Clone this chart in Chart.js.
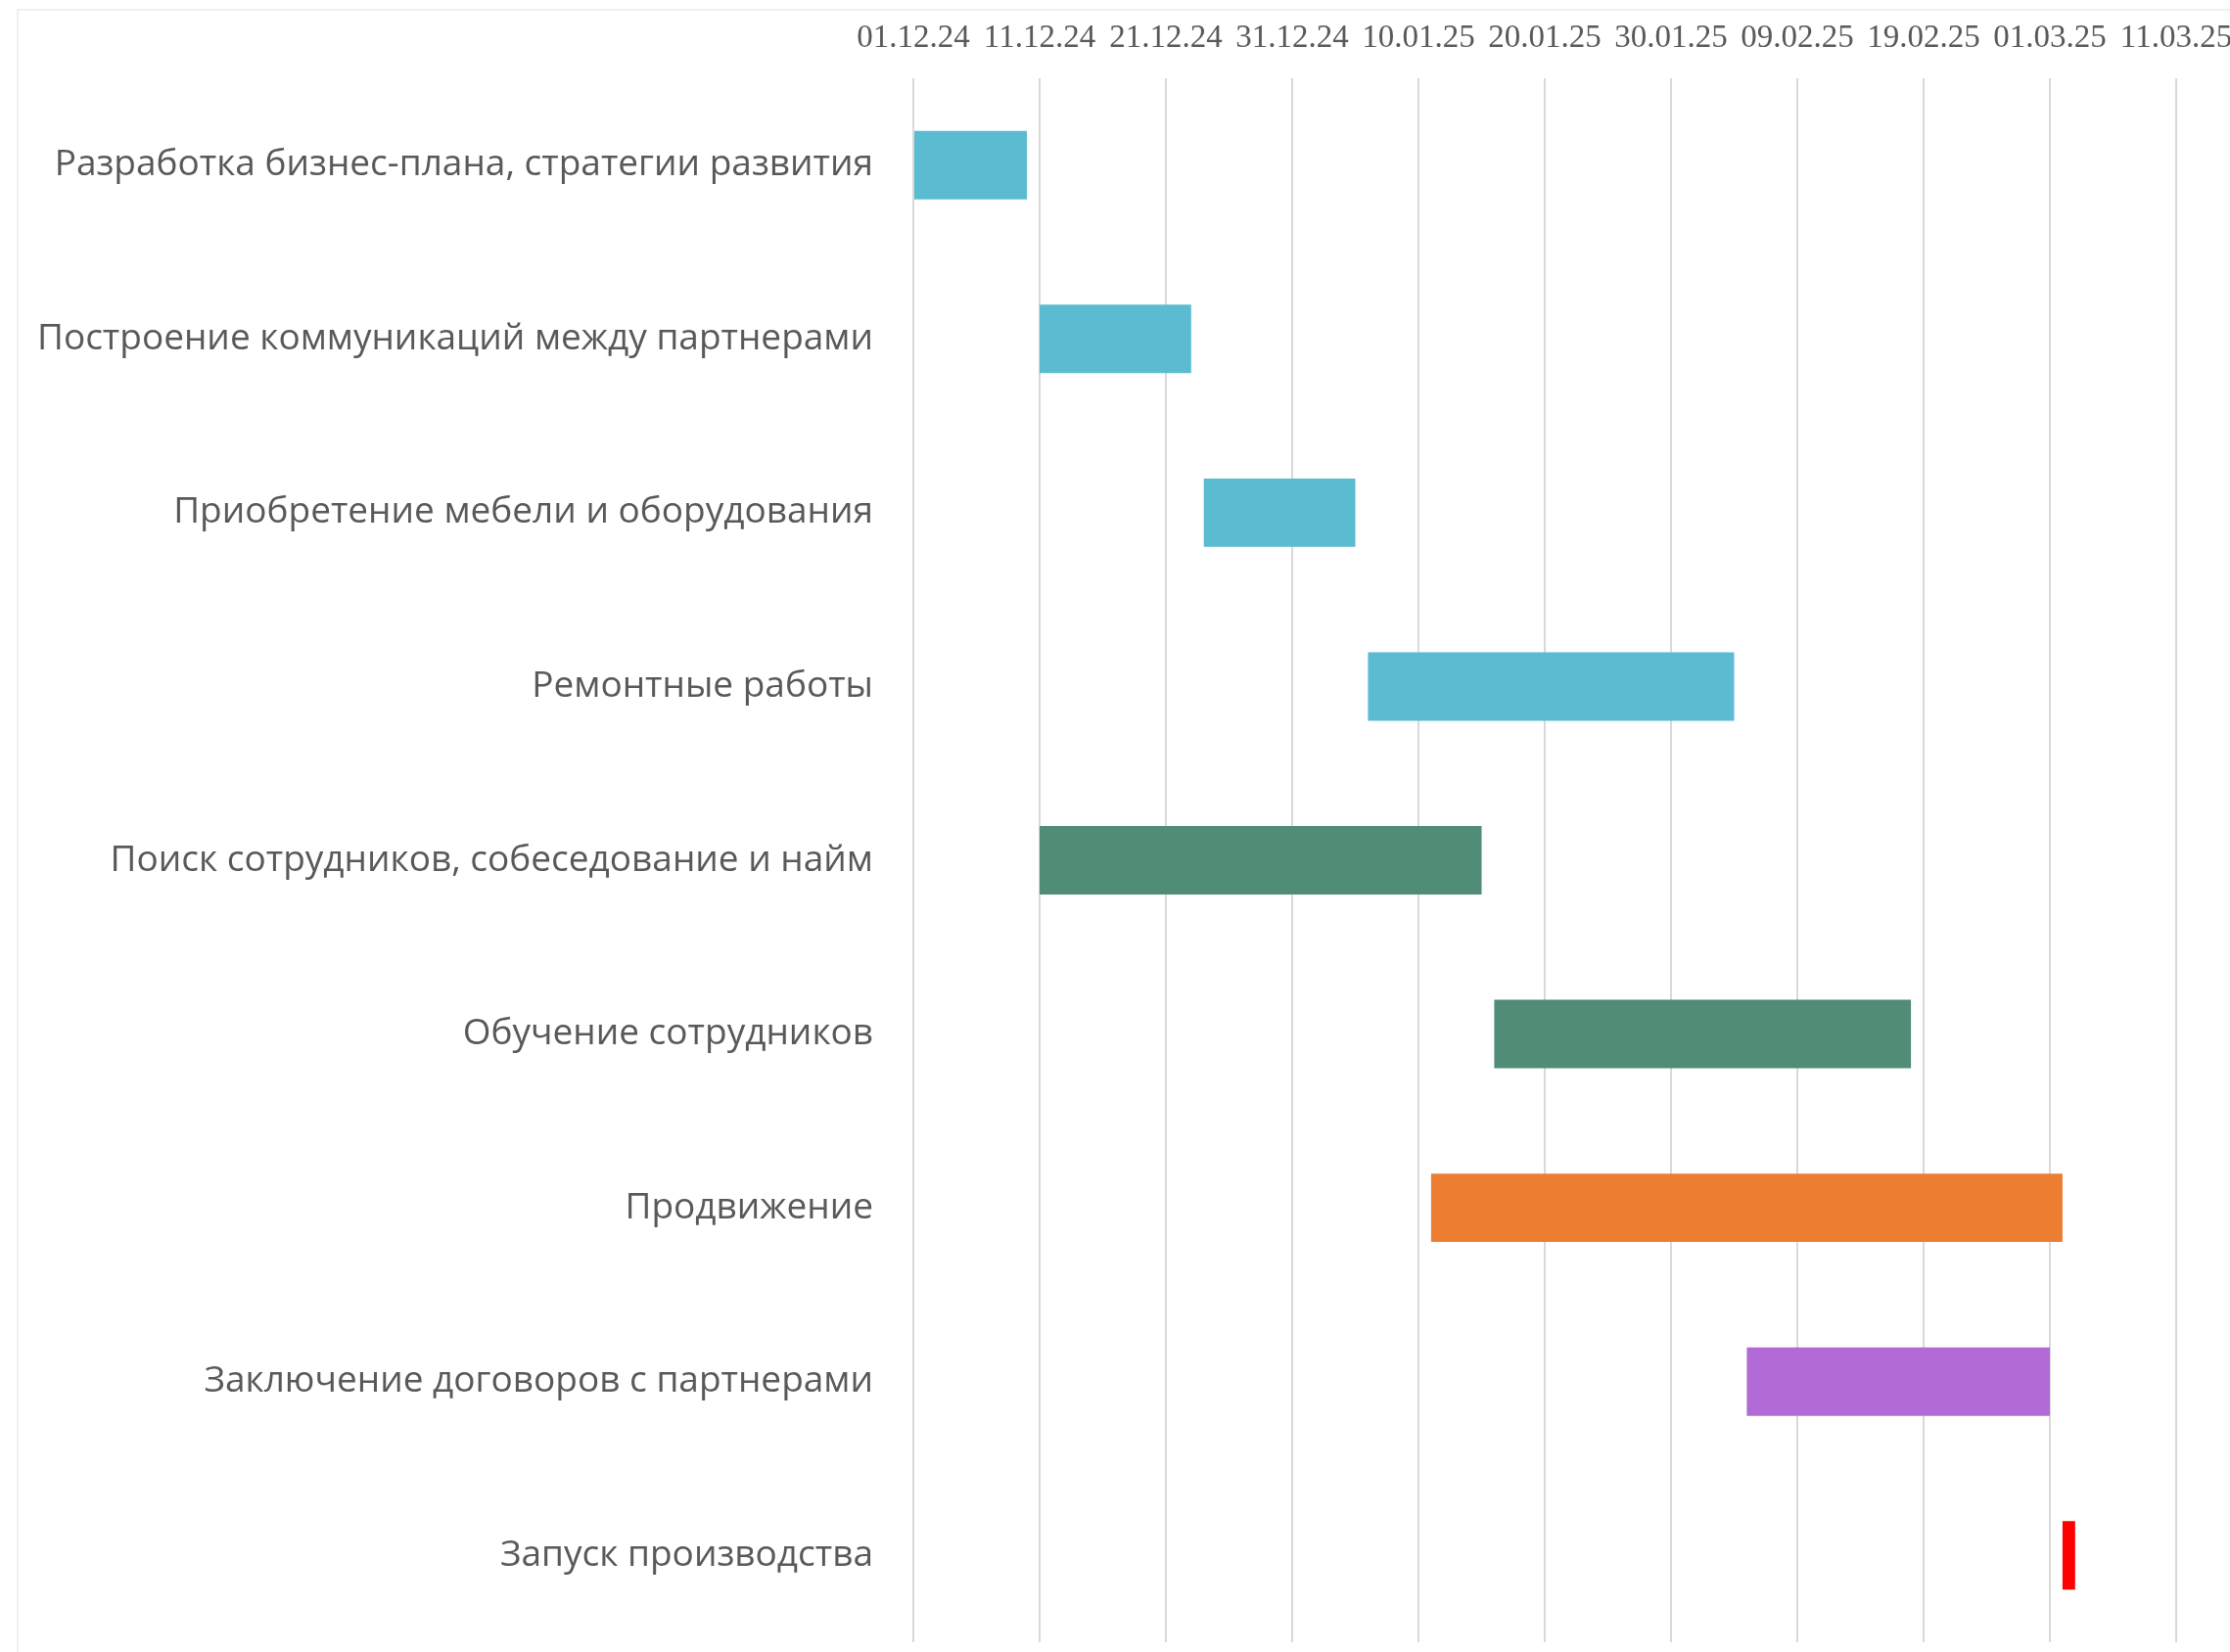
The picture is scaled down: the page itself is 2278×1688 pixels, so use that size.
<!DOCTYPE html>
<html>
<head>
<meta charset="utf-8">
<script src="https://cdn.jsdelivr.net/npm/chart.js@4"></script>
<style>
  html, body { margin: 0; padding: 0; background: #fff; overflow: hidden; }
  #frame { position: absolute; left: 17px; top: 9px; width: 2300px; height: 1700px;
           border-left: 2px solid #f0f0f0; border-top: 2px solid #f0f0f0; }
  #wrap { position: absolute; left: 0; top: 0; width: 2278px; height: 1688px; }
</style>
</head>
<body>
<div id="frame"></div>
<div id="wrap"><canvas id="gantt"></canvas></div>
<script>
// задачи и сроки (дни считаются от 01.12.24)
const tasks = [
    "Разработка бизнес-плана, стратегии развития",
    "Построение коммуникаций между партнерами",
    "Приобретение мебели и оборудования",
    "Ремонтные работы",
    "Поиск сотрудников, собеседование и найм",
    "Обучение сотрудников",
    "Продвижение",
    "Заключение договоров с партнерами",
    "Запуск производства"
]
const startDays = [0, 10, 23, 36, 10, 46, 41, 66, 91]
const endDays   = [9, 22, 35, 65, 45, 79, 91, 90, 92]
const barColors = ["#5BBCD1", "#5BBCD1", "#5BBCD1", "#5BBCD1",
                   "#508C76", "#508C76", "#ED7D31", "#B26BD6", "#FF0000"]
const tickLabels = ["01.12.24", "11.12.24", "21.12.24", "31.12.24", "10.01.25",
                    "20.01.25", "30.01.25", "09.02.25", "19.02.25", "01.03.25", "11.03.25"]

const ctx = document.getElementById("gantt").getContext("2d")

new Chart(ctx, {
    type: "bar",
    data: {
        labels: tasks,
        datasets: [{
            data: tasks.map((t, i) => [startDays[i], endDays[i]]),
            backgroundColor: barColors,
            borderWidth: 0,
            categoryPercentage: 1,
            barPercentage: 0.394
        }]
    },
    options: {
        indexAxis: "y",
        responsive: true,
        maintainAspectRatio: false,
        devicePixelRatio: 1,
        animation: false,
        layout: { padding: { left: 0, right: 55, top: 0, bottom: 10 } },
        plugins: { legend: { display: false }, tooltip: { enabled: false } },
        scales: {
            x: {
                position: "top",
                min: 0,
                max: 100,
                afterBuildTicks: (s) => { s.ticks = tickLabels.map((l, i) => ({ value: i * 10 })) },
                afterFit: (s) => { s.height = 80; s.paddingLeft = 0; s.paddingRight = 0 },
                ticks: {
                    autoSkip: false,
                    maxRotation: 0,
                    padding: 21,
                    color: "#595959",
                    font: { family: "Liberation Serif", size: 33 },
                    callback: (v, i) => tickLabels[i]
                },
                grid: { color: "#d9d9d9", lineWidth: 2, drawTicks: false },
                border: { display: false }
            },
            y: {
                afterFit: (s) => { s.width = 933; s.paddingTop = 0; s.paddingBottom = 0 },
                ticks: {
                    padding: 33,
                    color: "#595959",
                    font: { family: "Open Sans", size: 37 }
                },
                grid: { display: false },
                border: { display: false }
            }
        }
    }
})
</script>
</body>
</html>
